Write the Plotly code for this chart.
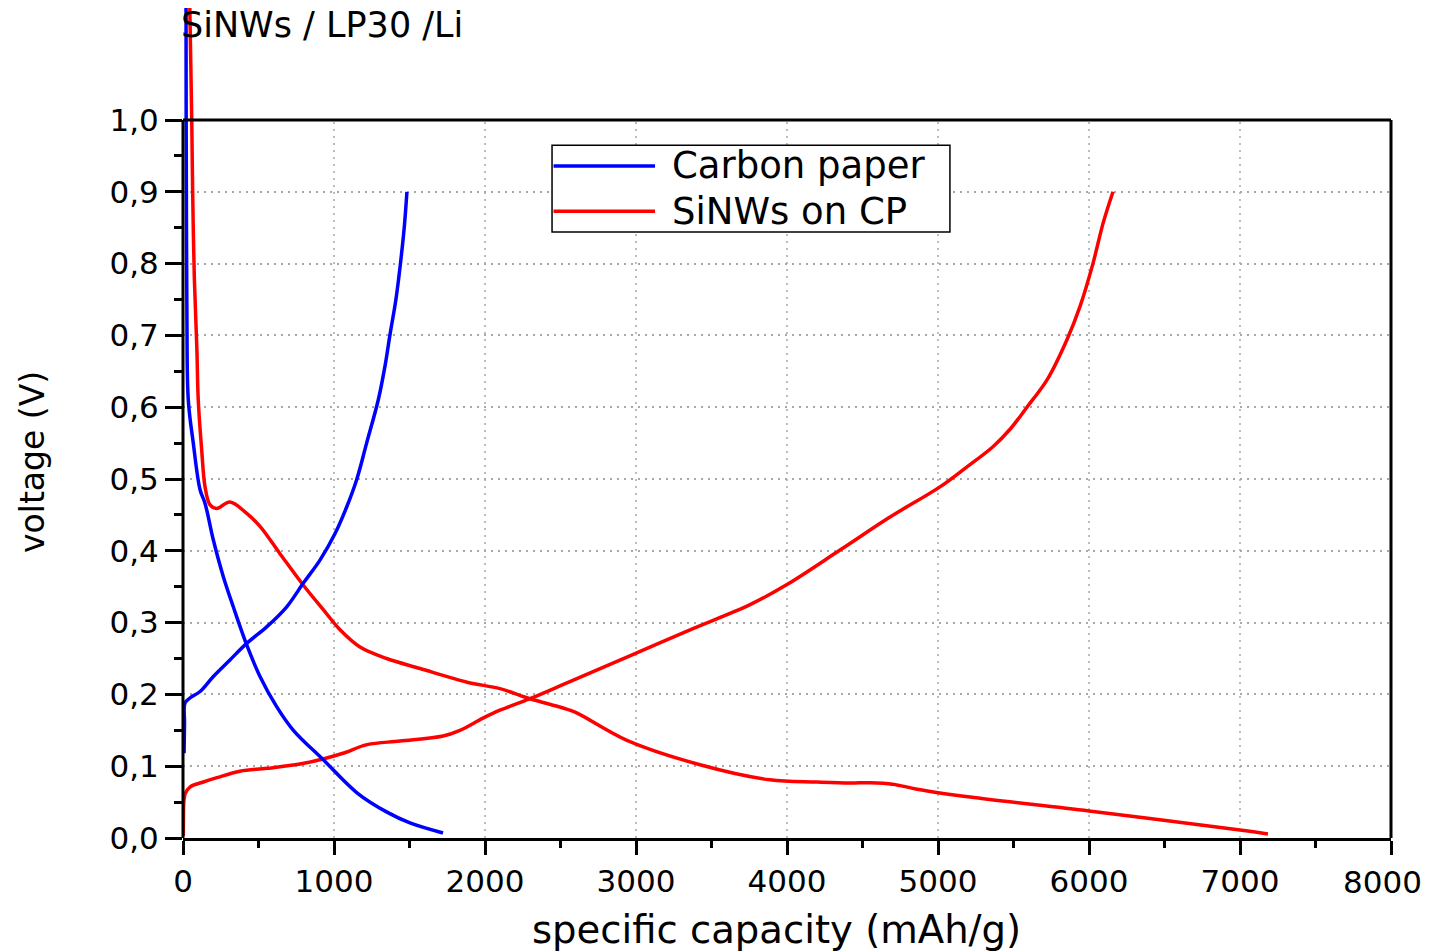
import plotly.graph_objects as go

# ---------------- data ----------------
# Carbon paper (blue) - discharge (lithiation) branch
cp_dis_x = [20, 21, 23, 26, 35, 68, 113, 146, 201, 267, 333, 422, 510, 620, 731, 929, 1152, 1351, 1503, 1722]
cp_dis_y = [1.17, 1.0, 0.85, 0.72, 0.61, 0.55, 0.485, 0.466, 0.415, 0.364, 0.322, 0.269, 0.225, 0.183, 0.150,
            0.109, 0.063, 0.036, 0.021, 0.007]
# Carbon paper (blue) - charge (delithiation) branch
cp_ch_x = [7, 10, 13, 46, 113, 201, 311, 422, 554, 687, 797, 907, 1007, 1084, 1150, 1216, 1293, 1340, 1370,
           1410, 1440, 1465, 1483]
cp_ch_y = [0.118, 0.16, 0.188, 0.195, 0.204, 0.225, 0.248, 0.271, 0.294, 0.322, 0.355, 0.387, 0.424, 0.461,
           0.499, 0.550, 0.610, 0.66, 0.70, 0.75, 0.80, 0.85, 0.90]

# SiNWs on CP (red) - discharge branch
si_dis_x = [44, 58, 64, 75, 92, 101, 124, 146, 179, 223, 311, 422, 510, 642, 797, 929, 1040, 1172, 1349, 1570,
            1881, 2099, 2298, 2517, 2600, 2940, 3424, 3887, 4200, 4417, 4550, 4700, 4861, 5212, 6000, 7000, 7185]
si_dis_y = [1.17, 1.0, 0.9, 0.78, 0.68, 0.61, 0.54, 0.489, 0.464, 0.459, 0.468, 0.452, 0.434, 0.396, 0.352,
            0.318, 0.290, 0.266, 0.250, 0.236, 0.217, 0.208, 0.194, 0.181, 0.175, 0.136, 0.102, 0.081, 0.078,
            0.0766, 0.077, 0.075, 0.068, 0.057, 0.0376, 0.011, 0.0056]
# SiNWs on CP (red) - charge branch
si_ch_x = [2, 3, 6, 15, 46, 135, 225, 377, 556, 775, 927, 1060, 1219, 1437, 1722, 1834, 1987, 2099, 2298,
           2543, 2940, 3358, 3755, 4000, 4351, 4682, 5013, 5192, 5364, 5480, 5589, 5722, 5854, 5940, 6026, 6093, 6159]
si_ch_y = [0.003, 0.03, 0.052, 0.062, 0.071, 0.078, 0.084, 0.093, 0.097, 0.103, 0.110, 0.118, 0.130, 0.135,
           0.142, 0.15, 0.167, 0.178, 0.194, 0.216, 0.252, 0.29, 0.325, 0.353, 0.401, 0.447, 0.489, 0.517,
           0.545, 0.570, 0.60, 0.638, 0.694, 0.74, 0.80, 0.856, 0.9]

series_names = ["Carbon paper", "SiNWs on CP"]
series_colors = ["#0000ff", "#ff0000"]

x_tickvals = [0, 1000, 2000, 3000, 4000, 5000, 6000, 7000, 8000]
x_ticktext = ["0", "1000", "2000", "3000", "4000", "5000", "6000", "7000", "8000"]
x_minor = [500, 1500, 2500, 3500, 4500, 5500, 6500, 7500]
y_tickvals = [0.0, 0.1, 0.2, 0.3, 0.4, 0.5, 0.6, 0.7, 0.8, 0.9, 1.0]
y_ticktext = ["0,0", "0,1", "0,2", "0,3", "0,4", "0,5", "0,6", "0,7", "0,8", "0,9", "1,0"]
y_minor = [0.05, 0.15, 0.25, 0.35, 0.45, 0.55, 0.65, 0.75, 0.85, 0.95]

title_text = "SiNWs / LP30 /Li"
x_title = "specific capacity (mAh/g)"
y_title = "voltage (V)"

# ---------------- figure ----------------
FONT = "DejaVu Sans"
# page body has an 8px margin; figure is sized so the plot lands where the reference has it
FIG_W, FIG_H = 1426, 944
PLOT_H = 830
PLOT_W = 1208
PX_PER_V = 718.0
Y_TOP = PLOT_H / PX_PER_V
Y_FRAME = 1.0
X_MAX = 8000
TICK_SIZE = 31
LINE_W = 3.5

fig = go.Figure()
line_kw = dict(shape="spline", smoothing=1.0, width=LINE_W)

fig.add_trace(go.Scatter(x=si_dis_x, y=si_dis_y, mode="lines", line=dict(color=series_colors[1], **line_kw),
                         name=series_names[1], showlegend=False, hoverinfo="skip"))
fig.add_trace(go.Scatter(x=si_ch_x, y=si_ch_y, mode="lines", line=dict(color=series_colors[1], **line_kw),
                         name=series_names[1], showlegend=False, hoverinfo="skip"))
fig.add_trace(go.Scatter(x=cp_dis_x, y=cp_dis_y, mode="lines", line=dict(color=series_colors[0], **line_kw),
                         name=series_names[0], showlegend=False, hoverinfo="skip"))
fig.add_trace(go.Scatter(x=cp_ch_x, y=cp_ch_y, mode="lines", line=dict(color=series_colors[0], **line_kw),
                         name=series_names[0], showlegend=False, hoverinfo="skip"))

shapes = []
grid_line = dict(color="#a8a8a8", width=1.5, dash="2px,5px")
# vertical dotted grid (only up to the frame top at 1.0)
for xv in x_tickvals[1:-1]:
    shapes.append(dict(type="line", xref="x", yref="y", x0=xv, x1=xv, y0=0, y1=Y_FRAME,
                       line=grid_line, layer="below"))
# frame: left, top, right
yf = Y_FRAME / Y_TOP
frame = dict(color="black", width=3)
shapes.append(dict(type="line", xref="paper", yref="paper", x0=0, x1=0, y0=0, y1=yf, line=frame))
shapes.append(dict(type="line", xref="paper", yref="paper", x0=0, x1=1, y0=yf, y1=yf, line=frame))
shapes.append(dict(type="line", xref="paper", yref="paper", x0=1, x1=1, y0=0, y1=yf, line=frame))

# manual legend (data coordinates inside the plot area)
lg_x0, lg_x1 = 2444, 5079
lg_y0, lg_y1 = 0.844, 0.965
shapes.append(dict(type="rect", xref="x", yref="y", x0=lg_x0, x1=lg_x1, y0=lg_y0, y1=lg_y1,
                   line=dict(color="black", width=1.5), fillcolor="white"))
lg_rows = [0.936, 0.873]
annotations = []
for name, col, yy in zip(series_names, series_colors, lg_rows):
    shapes.append(dict(type="line", xref="x", yref="y", x0=lg_x0 + 10, x1=3126, y0=yy, y1=yy,
                       line=dict(color=col, width=LINE_W)))
    annotations.append(dict(x=3225, y=yy, xref="x", yref="y", text=name, showarrow=False,
                            xanchor="left", yanchor="middle", font=dict(family=FONT, size=37, color="black")))

annotations.append(dict(x=-0.003, y=1 - 17 / PLOT_H, xref="paper", yref="paper", text=title_text, showarrow=False,
                        xanchor="left", yanchor="middle", font=dict(family=FONT, size=35, color="black")))
# axis titles placed as in the reference
annotations.append(dict(x=(776 - 183) / PLOT_W, y=-(929 - 838) / PLOT_H, xref="paper", yref="paper",
                        text=x_title, showarrow=False, xanchor="center", yanchor="middle",
                        font=dict(family=FONT, size=38.6, color="black")))
annotations.append(dict(x=-(183 - 32) / PLOT_W, y=(838 - 462) / PLOT_H, xref="paper", yref="paper",
                        text=y_title, showarrow=False, xanchor="center", yanchor="middle", textangle=-90,
                        font=dict(family=FONT, size=33, color="black")))
# last x tick label drawn right-aligned so it stays fully inside the visible page
tick_labels_shown = x_ticktext[:-1] + [""]
annotations.append(dict(x=1, y=0, xref="paper", yref="paper", text=x_ticktext[-1], showarrow=False,
                        xanchor="right", yanchor="middle", xshift=33, yshift=-44,
                        font=dict(family=FONT, size=TICK_SIZE, color="black")))

fig.update_layout(
    width=FIG_W, height=FIG_H,
    margin=dict(l=175, r=43, t=0, b=FIG_H - PLOT_H),
    paper_bgcolor="white", plot_bgcolor="white",
    font=dict(family=FONT, color="black"),
    shapes=shapes, annotations=annotations,
    showlegend=False,
    xaxis=dict(range=[0, X_MAX], tickmode="array", tickvals=x_tickvals, ticktext=tick_labels_shown,
               ticks="outside", ticklen=14, tickwidth=3, tickcolor="black",
               ticklabeloverflow="allow",
               showline=True, linewidth=3, linecolor="black", mirror=False,
               showgrid=False, zeroline=False,
               tickfont=dict(family=FONT, size=TICK_SIZE, color="black"),
               minor=dict(tickmode="array", tickvals=x_minor, ticks="outside", ticklen=7,
                          tickwidth=3, tickcolor="black", showgrid=False)),
    yaxis=dict(range=[0, Y_TOP], tickmode="array", tickvals=y_tickvals, ticktext=y_ticktext,
               ticks="outside", ticklen=17, tickwidth=3, tickcolor="black",
               showline=False, showgrid=True, gridcolor="#a8a8a8", gridwidth=1.5, griddash="2px,5px",
               zeroline=False,
               tickfont=dict(family=FONT, size=TICK_SIZE, color="black"),
               minor=dict(tickmode="array", tickvals=y_minor, ticks="outside", ticklen=8,
                          tickwidth=3, tickcolor="black", showgrid=False)),
)

fig.write_html("out.html")
